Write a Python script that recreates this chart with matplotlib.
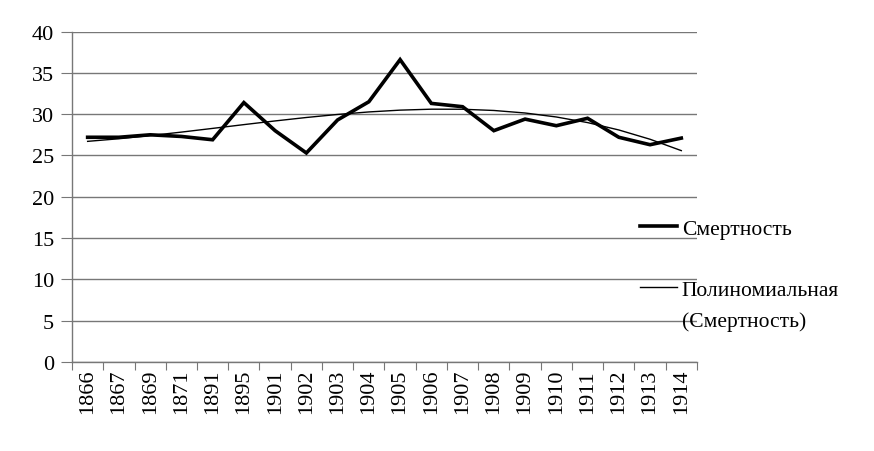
import numpy as np
import matplotlib
matplotlib.use("Agg")
import matplotlib.pyplot as plt

# --- данные ---
years = ["1866", "1867", "1869", "1871", "1891", "1895", "1901", "1902", "1903", "1904",
         "1905", "1906", "1907", "1908", "1909", "1910", "1911", "1912", "1913", "1914"]
mortality = [27.2, 27.2, 27.5, 27.3, 26.9, 31.4, 28.0, 25.3, 29.3, 31.5,
             36.6, 31.3, 30.9, 28.0, 29.4, 28.6, 29.5, 27.2, 26.3, 27.1]
y_ticks = [0, 5, 10, 15, 20, 25, 30, 35, 40]
label_main = "Смертность"
label_trend = "Полиномиальная"
label_trend2 = "(Смертность)"

plt.rcParams["font.family"] = ["Liberation Serif", "DejaVu Serif"]

x = np.arange(len(years))
# полиномиальный тренд (как в Excel)
coef = np.polyfit(x + 1, mortality, 3)
trend = np.polyval(coef, x + 1)

fig = plt.figure(figsize=(8.74, 4.52), dpi=100)
ax = fig.add_axes([0.0824, 0.197, 0.715, 0.731])

ax.plot(x, mortality, color="black", lw=2.6, solid_joinstyle="miter", label=label_main, zorder=3)
ax.plot(x, trend, color="black", lw=1.0, label=label_trend, zorder=3)

ax.set_xlim(-0.5, len(years) - 0.5)
ax.set_ylim(0, 40)
ax.set_yticks(y_ticks)
ax.yaxis.grid(True, color="#777777", lw=1.0)
ax.set_axisbelow(True)

# деления по границам категорий, подписи по центрам
ax.set_xticks(np.arange(-0.5, len(years), 1.0))
ax.set_xticklabels([])
ax.set_xticks(x, minor=True)
ax.set_xticklabels(years, minor=True, rotation=90, fontsize=16)
ax.tick_params(axis="x", which="major", length=6, color="#777777", direction="out")
ax.tick_params(axis="x", which="minor", length=0, pad=5)
ax.tick_params(axis="y", length=8, color="#777777", labelsize=16, pad=5)

for s in ["top", "right"]:
    ax.spines[s].set_visible(False)
for s in ["left", "bottom"]:
    ax.spines[s].set_color("#777777")
    ax.spines[s].set_linewidth(1.0)

leg = ax.legend(loc="upper left", bbox_to_anchor=(0.732, 0.514), bbox_transform=fig.transFigure,
                frameon=False, fontsize=15.5, handlelength=1.75, handletextpad=0.2,
                labelspacing=1.9, borderpad=0, borderaxespad=0)
ax.annotate(label_trend2, xy=(0, 0), xycoords=leg.get_texts()[1], xytext=(0, -8),
            textcoords="offset points", ha="left", va="top", fontsize=15.5, zorder=10)

fig.savefig("out.png", dpi=100)
